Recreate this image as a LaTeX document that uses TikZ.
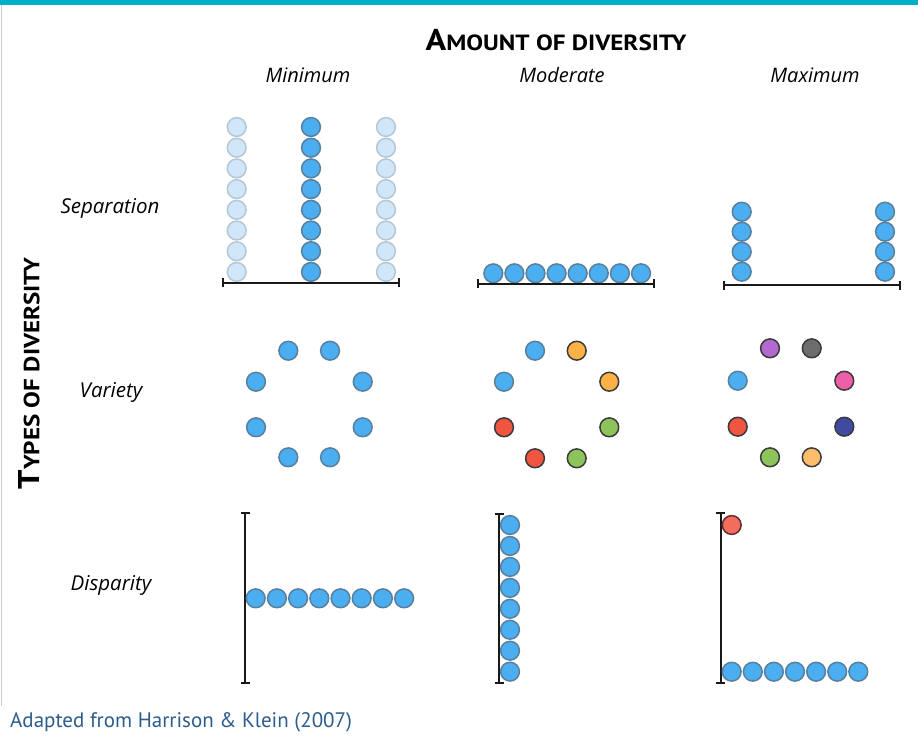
\documentclass[tikz,border=0pt]{standalone}
\usepackage{fontspec}
\setmainfont{Open Sans}
\newfontfamily\capfont{PT Sans}
\newfontfamily\capfontw{PT Sans}[FakeStretch=1.14]
\usetikzlibrary{arrows.meta}
\definecolor{barteal}{HTML}{00AEC7}
\definecolor{cblue}{HTML}{4AAEF0}
\definecolor{sblue}{HTML}{5A7F9C}
\definecolor{fblue}{HTML}{CFE7F8}
\definecolor{sfblue}{HTML}{B5C7D4}
\definecolor{corange}{HTML}{FDB146}
\definecolor{cred}{HTML}{F0553F}
\definecolor{cgreen}{HTML}{8CC45B}
\definecolor{cpurple}{HTML}{B26AD0}
\definecolor{cgray}{HTML}{6D6D6D}
\definecolor{cpink}{HTML}{EE5FAA}
\definecolor{cnavy}{HTML}{3E4BA0}
\definecolor{clorange}{HTML}{FDBE6C}
\definecolor{captcol}{HTML}{2C5C8C}
\definecolor{sdark}{HTML}{3A3A3A}
\tikzset{
  dot/.style={circle, inner sep=0pt, minimum size=18.8pt, line width=1.5pt},
  bdot/.style={dot, draw=sblue, fill=cblue},
  fdot/.style={dot, draw=sfblue, fill=fblue},
  kdot/.style={dot, draw=sdark, fill=#1},
  axis/.style={line width=2pt, black!90, {Bar[width=9pt,line width=2pt]}-{Bar[width=9pt,line width=2pt]}},
  colhead/.style={font=\fontsize{20}{24}\selectfont\itshape},
  rowhead/.style={font=\fontsize{20.5}{24}\selectfont\itshape},
  bigtitle/.style={font=\capfontw\bfseries},
}
\begin{document}
\begin{tikzpicture}[x=1pt,y=-1pt]
\useasboundingbox (0,0) rectangle (918,740);
\fill[barteal] (0,0) rectangle (918,5);
\draw[black!20, line width=1pt] (1.5,5) -- (1.5,706);

% titles
\node[bigtitle] (title) at (556,40) {\fontsize{30}{32}\selectfont A\fontsize{22}{26}\selectfont MOUNT OF DIVERSITY};
\node[colhead] (hmin) at (308,75) {Minimum};
\node[colhead] (hmod) at (562,75) {Moderate};
\node[colhead] (hmax) at (815,75) {Maximum};
\node[rowhead] (rsep) at (110,208) {Separation};
\node[rowhead] (rvar) at (111,392) {Variety};
\node[rowhead] (rdis) at (111,585) {Disparity};
\node[bigtitle, rotate=90] (types) at (29,373.5) {\fontsize{30}{32}\selectfont T\fontsize{22}{26}\selectfont YPES OF DIVERSITY};
\node[font=\fontsize{21}{25}\selectfont\capfont, text=captcol, anchor=west, inner sep=0pt] (cap) at (10,722) {Adapted from Harrison \& Klein (2007)};

% Separation - minimum
\foreach \i in {0,...,7} {
  \node[fdot] (sa\i) at (236.7, 127+20.7*\i) {};
  \node[bdot] (sb\i) at (311, 127+20.7*\i) {};
  \node[fdot] (sc\i) at (386, 127+20.7*\i) {};
}
\coordinate (la1) at (221.5,282.7);
\coordinate (la2) at (400,282.7);
\draw[axis] (la1) -- (la2);

% Separation - moderate
\foreach \i in {0,...,7} {
  \node[bdot] (sm\i) at (493.3+21.1*\i, 273.3) {};
}
\coordinate (lb1) at (477,283.8);
\coordinate (lb2) at (655,283.8);
\draw[axis] (lb1) -- (lb2);

% Separation - maximum
\foreach \i in {0,...,3} {
  \node[bdot] (sx\i) at (741.7, 211.7+20*\i) {};
  \node[bdot] (sy\i) at (885, 211.7+20*\i) {};
}
\coordinate (lc1) at (722.5,285);
\coordinate (lc2) at (901,285);
\draw[axis] (lc1) -- (lc2);

% Variety - minimum
\node[bdot] (va1) at (288.3,350.7) {};
\node[bdot] (va2) at (330,350.7) {};
\node[bdot] (va3) at (256,381.7) {};
\node[bdot] (va4) at (362.7,381.7) {};
\node[bdot] (va5) at (256,427.3) {};
\node[bdot] (va6) at (362.7,427.3) {};
\node[bdot] (va7) at (288.3,457.3) {};
\node[bdot] (va8) at (330,457.3) {};

% Variety - moderate
\node[bdot] (vb1) at (535,350.7) {};
\node[kdot=corange] (vb2) at (576.7,350.7) {};
\node[bdot] (vb3) at (504,381.7) {};
\node[kdot=corange] (vb4) at (609.3,381.7) {};
\node[kdot=cred] (vb5) at (504,427.3) {};
\node[kdot=cgreen] (vb6) at (609.3,427.3) {};
\node[kdot=cred] (vb7) at (535,458.3) {};
\node[kdot=cgreen] (vb8) at (576.7,458.3) {};

% Variety - maximum
\node[kdot=cpurple] (vc1) at (770,348.3) {};
\node[kdot=cgray] (vc2) at (811.7,348.3) {};
\node[bdot] (vc3) at (737.7,380.7) {};
\node[kdot=cpink] (vc4) at (844.3,380.7) {};
\node[kdot=cred] (vc5) at (737.7,426.7) {};
\node[kdot=cnavy] (vc6) at (844.3,426.7) {};
\node[kdot=cgreen] (vc7) at (770,457.3) {};
\node[kdot=clorange] (vc8) at (811.7,457.3) {};

% Disparity - minimum
\coordinate (da1) at (245,511.7);
\coordinate (da2) at (245,684.3);
\draw[axis] (da1) -- (da2);
\foreach \i in {0,...,7} {
  \node[bdot] (dm\i) at (255.7+21.2*\i, 598.3) {};
}

% Disparity - moderate
\coordinate (db1) at (499,512.7);
\coordinate (db2) at (499,684.3);
\draw[axis] (db1) -- (db2);
\foreach \i in {0,...,7} {
  \node[bdot] (dn\i) at (510, 525+20.95*\i) {};
}

% Disparity - maximum
\coordinate (dc1) at (720.7,512.3);
\coordinate (dc2) at (720.7,684);
\draw[axis] (dc1) -- (dc2);
\node[dot, draw=sdark!80!red, fill=cred!85!white] (dr) at (731.7,525) {};
\foreach \i in {0,...,6} {
  \node[bdot] (dx\i) at (731.7+21.1*\i, 671.7) {};
}
\end{tikzpicture}
\end{document}
